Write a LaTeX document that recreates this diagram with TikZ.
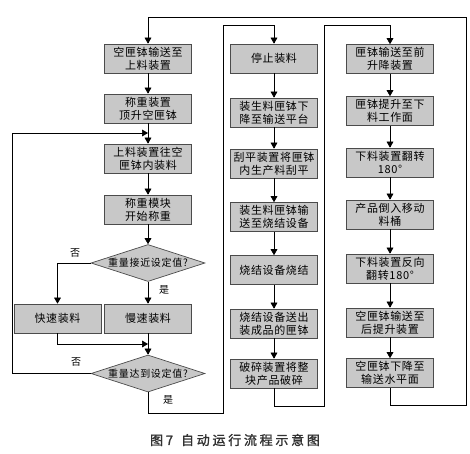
\documentclass[tikz,border=0pt]{standalone}
\usepackage{fontspec}
\usetikzlibrary{shapes.geometric, arrows}
\newfontfamily\cjk{Noto Sans CJK SC}
\newfontfamily\boxfont{Noto Sans CJK SC}[LetterSpace=6]
\newfontfamily\askfont{Noto Sans CJK SC}[LetterSpace=7]
\newfontfamily\capfont{Noto Sans CJK SC}[FakeBold=1.5,LetterSpace=21]
\definecolor{boxgray}{RGB}{200,200,200}
\definecolor{edgegray}{RGB}{75,75,75}
\definecolor{capgray}{RGB}{50,50,50}

\begin{document}
\begin{tikzpicture}[x=1pt, y=-1pt, >=triangle 60]
\tikzset{ proc/.style={align=center, minimum height=29pt, text width=87pt, inner sep=0pt,
                       draw=edgegray, fill=boxgray, line width=0.7pt,
                       font=\boxfont\fontsize{11}{13}\selectfont},
          decide/.style={diamond, aspect=3.1, minimum width=114pt, minimum height=37pt, inner sep=0pt,
                         draw=edgegray, fill=boxgray, line width=0.7pt,
                         font=\askfont\fontsize{10}{12}\selectfont},
          link/.style={->, line width=0.6pt},
          tag/.style={font=\cjk\fontsize{10}{12}\selectfont} };
\def\colA{148}
\def\colB{274}
\def\colC{390}

\useasboundingbox (0,0) rectangle (470,453);

\node[proc] (L1) at (\colA,58.5) {空匣钵输送至\\上料装置};
\node[proc] (L2) at (\colA,108.5) {称重装置\\顶升空匣钵};
\node[proc] (L3) at (\colA,158.5) {上料装置往空\\匣钵内装料};
\node[proc] (L4) at (\colA,209.5) {称重模块\\开始称重};
\node[decide] (D1) at (\colA,263) {重量接近设定值?};
\node[proc] (F1) at (57.5,318.5) {快速装料};
\node[proc] (S1) at (\colA,318.5) {慢速装料};
\node[decide] (D2) at (\colA,373.5) {重量达到设定值?};

\node[proc] (M1) at (\colB,58.5) {停止装料};
\node[proc] (M2) at (\colB,112.5) {装生料匣钵下\\降至输送平台};
\node[proc] (M3) at (\colB,163.5) {刮平装置将匣钵\\内生产料刮平};
\node[proc] (M4) at (\colB,217) {装生料匣钵输\\送至烧结设备};
\node[proc] (M5) at (\colB,270) {烧结设备烧结};
\node[proc] (M6) at (\colB,323.5) {烧结设备送出\\装成品的匣钵};
\node[proc] (M7) at (\colB,373.5) {破碎装置将整\\块产品破碎};

\node[proc] (R1) at (\colC,59) {匣钵输送至前\\升降装置};
\node[proc] (R2) at (\colC,111) {匣钵提升至下\\料工作面};
\node[proc] (R3) at (\colC,162.5) {下料装置翻转\\180°};
\node[proc] (R4) at (\colC,214.5) {产品倒入移动\\料桶};
\node[proc] (R5) at (\colC,268.5) {下料装置反向\\翻转180°};
\node[proc] (R6) at (\colC,322.5) {空匣钵输送至\\后提升装置};
\node[proc] (R7) at (\colC,373) {空匣钵下降至\\输送水平面};

\node[tag] (no1) at (75,253) {否};
\node[tag] (yes1) at (164,290) {是};
\node[tag] (no2) at (76,362) {否};
\node[tag] (yes2) at (168,400) {是};

\coordinate (join1) at (\colA,344);
\coordinate (back1) at (12,133);
\coordinate (back2) at (\colA,133);
\coordinate (out1) at (223,413);
\coordinate (out2) at (223,25);
\coordinate (out3) at (324,406);
\coordinate (out4) at (324,25);
\coordinate (out5) at (466,405);
\coordinate (out6) at (466,17);

\draw[link] (L1) -- (L2);
\draw[link] (L2) -- (L3);
\draw[link] (L3) -- (L4);
\draw[link] (L4) -- (D1);
\draw[link] (D1.west) -| (F1.north);
\draw[link] (D1.south) -- (S1.north);
\draw[link] (S1.south) -- (D2.north);
\draw[link] (F1.south) |- (join1);
\draw[link] (D2.west) -| (back1) -- (back2);
\draw[link] (D2.south) |- (out1) -- (out2) -| (M1.north);

\draw[link] (M1) -- (M2);
\draw[link] (M2) -- (M3);
\draw[link] (M3) -- (M4);
\draw[link] (M4) -- (M5);
\draw[link] (M5) -- (M6);
\draw[link] (M6) -- (M7);
\draw[link] (M7.south) |- (out3) -- (out4) -| (R1.north);

\draw[link] (R1) -- (R2);
\draw[link] (R2) -- (R3);
\draw[link] (R3) -- (R4);
\draw[link] (R4) -- (R5);
\draw[link] (R5) -- (R6);
\draw[link] (R6) -- (R7);
\draw[link] (R7.south) |- (out5) -- (out6) -| (L1.north);

\node[text=capgray, font=\capfont\fontsize{13}{15}\selectfont] (cap) at (235,440) {图7\hspace{8pt}自动运行流程示意图};

\end{tikzpicture}
\end{document}
